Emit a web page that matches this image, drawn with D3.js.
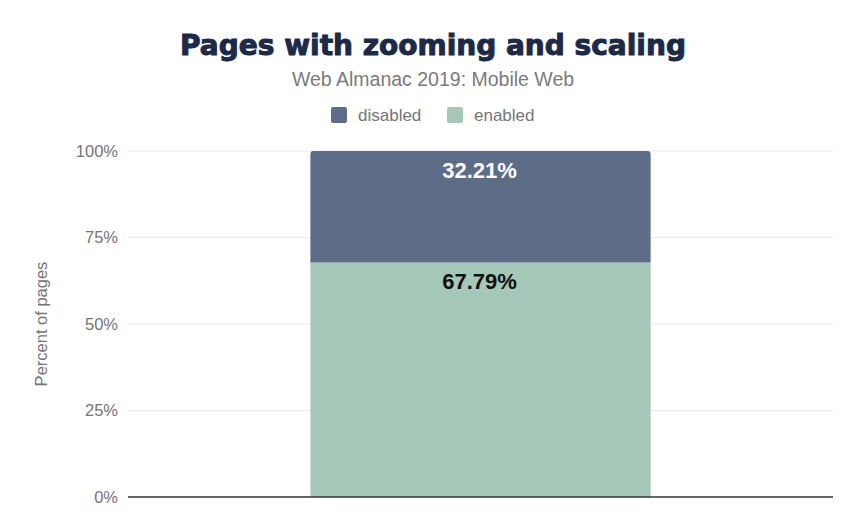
<!DOCTYPE html>
<html lang="en">
<head>
    <meta charset="UTF-8">
    <title>Pages with zooming and scaling</title>
    <style>
        body { margin: 0; background: #fff; font-family: "Liberation Sans", Arial, sans-serif; }
        svg { display: block; }
    </style>
    <script src="https://d3js.org/d3.v7.min.js"></script>
</head>
<body>
    <div id="chart"></div>
    <script>
        const categories = ["Mobile"];
        const seriesNames = ["enabled", "disabled"];
        const enabledValues = [67.79];
        const disabledValues = [32.21];
        const yTicks = [0, 25, 50, 75, 100];
        const legendNames = ["disabled", "enabled"];

        const colors = { disabled: "#5d6d87", enabled: "#a6c8b8" };

        const W = 859, H = 530;
        const margin = {top: 151, right: 26, bottom: 33, left: 128};
        const width = W - margin.left - margin.right;
        const height = H - margin.top - margin.bottom;

        const svg = d3.select("#chart").append("svg")
            .attr("width", W)
            .attr("height", H);

        // Title, subtitle
        svg.append("text")
            .attr("x", 433).attr("y", 55)
            .attr("text-anchor", "middle")
            .attr("font-family", "'DejaVu Sans', sans-serif")
            .attr("font-weight", 900)
            .attr("font-size", 28)
            .attr("fill", "#1b2a48")
            .attr("stroke", "#1b2a48")
            .attr("stroke-width", 1)
            .text("Pages with zooming and scaling");

        svg.append("text")
            .attr("x", 433).attr("y", 86)
            .attr("text-anchor", "middle")
            .attr("font-size", 19.5)
            .attr("fill", "#7b7b7b")
            .text("Web Almanac 2019: Mobile Web");

        // Legend
        const legendX = [331, 447];
        legendNames.forEach((name, i) => {
            svg.append("rect")
                .attr("x", legendX[i]).attr("y", 107)
                .attr("width", 16).attr("height", 16)
                .attr("rx", 2)
                .attr("fill", colors[name]);
            svg.append("text")
                .attr("x", legendX[i] + 27).attr("y", 121)
                .attr("font-size", 17)
                .attr("fill", "#757575")
                .text(name);
        });

        const g = svg.append("g")
            .attr("transform", `translate(${margin.left},${margin.top})`);

        const x = d3.scaleBand().domain(categories).range([0, width]).padding(0.349);
        const y = d3.scaleLinear().domain([0, 100]).range([height, 0]);

        // Gridlines
        g.selectAll("line.grid")
            .data(yTicks.filter(t => t > 0))
            .enter().append("line")
            .attr("class", "grid")
            .attr("x1", 0).attr("x2", width)
            .attr("y1", d => y(d)).attr("y2", d => y(d))
            .attr("stroke", "#ebebeb")
            .attr("stroke-width", 1);

        // Y axis labels
        const yAxis = g.append("g")
            .call(d3.axisLeft(y).tickValues(yTicks).tickSize(0).tickPadding(10).tickFormat(d => d + "%"));
        yAxis.select(".domain").remove();
        yAxis.selectAll("text")
            .attr("font-family", "'Liberation Sans', Arial, sans-serif")
            .attr("font-size", 16.5)
            .attr("fill", "#757575");

        // Y axis title
        svg.append("text")
            .attr("transform", `translate(47,${margin.top + height / 2}) rotate(-90)`)
            .attr("text-anchor", "middle")
            .attr("font-size", 16.5)
            .attr("fill", "#757575")
            .text("Percent of pages");

        // Stacked bars
        const rows = categories.map((c, i) => ({cat: c, enabled: enabledValues[i], disabled: disabledValues[i]}));
        const stacked = d3.stack().keys(seriesNames)(rows);

        stacked.forEach(layer => {
            const key = layer.key;
            g.selectAll("rect." + key)
                .data(layer)
                .enter().append("path")
                .attr("class", key)
                .attr("fill", colors[key])
                .attr("d", d => {
                    const x0 = x(d.data.cat), w = x.bandwidth();
                    const top = y(d[1]), bot = y(d[0]);
                    const r = key === "disabled" ? 3 : 0;
                    return `M${x0},${bot} L${x0},${top + r} Q${x0},${top} ${x0 + r},${top} ` +
                        `L${x0 + w - r},${top} Q${x0 + w},${top} ${x0 + w},${top + r} L${x0 + w},${bot} Z`;
                });

            g.selectAll("text." + key)
                .data(layer)
                .enter().append("text")
                .attr("class", key)
                .attr("x", d => x(d.data.cat) + x.bandwidth() / 2 - 1)
                .attr("y", d => y(d[1]) + 27)
                .attr("text-anchor", "middle")
                .attr("font-weight", "bold")
                .attr("font-size", 22)
                .attr("fill", key === "disabled" ? "#ffffff" : "#111111")
                .text(d => (d[1] - d[0]).toFixed(2) + "%");
        });

        // Baseline
        g.append("line")
            .attr("x1", 0).attr("x2", width)
            .attr("y1", height).attr("y2", height)
            .attr("stroke", "#333")
            .attr("stroke-width", 1.5);
    </script>
</body>
</html>
